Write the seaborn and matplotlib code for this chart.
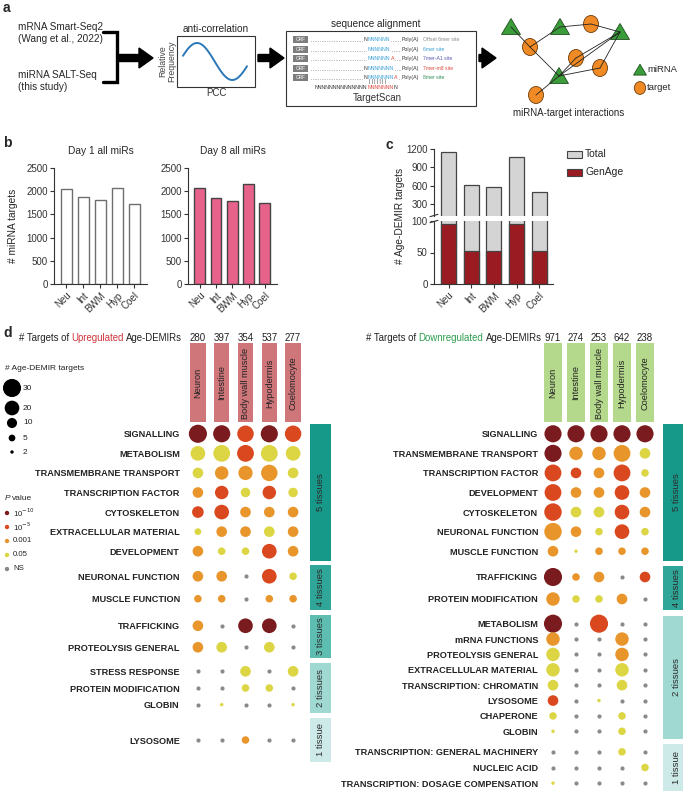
import numpy as np
import pandas as pd
import matplotlib
matplotlib.use("Agg")
import matplotlib.pyplot as plt
import seaborn as sns
from matplotlib.patches import Rectangle, Polygon, Ellipse, FancyArrow

W, H = 683, 792

# ---- data ----
tissues_short = ["Neu", "Int", "BWM", "Hyp", "Coel"]
tissues_long = ["Neuron", "Intestine", "Body wall muscle", "Hypodermis", "Coelomocyte"]

day1_targets = [2055, 1875, 1803, 2076, 1724]
day8_targets = [2069, 1853, 1782, 2155, 1746]

total_targets = [1156, 605, 580, 1064, 497]
genage_targets = [96, 53, 53, 95, 53]

up_totals = [280, 397, 354, 537, 277]
down_totals = [971, 274, 253, 642, 238]

p_levels = ["1e-10", "1e-5", "0.001", "0.05", "NS"]
p_labels = ["10$^{-10}$", "10$^{-5}$", "0.001", "0.05", "NS"]
p_colors = {"1e-10": "#7a1c1f", "1e-5": "#d9481f", "0.001": "#e8962b",
            "0.05": "#dcd544", "NS": "#8a8a8a"}

legend_counts = [30, 20, 10, 5, 2]

up_groups = ["5 tissues"] * 7 + ["4 tissues"] * 2 + ["3 tissues"] * 2 + ["2 tissues"] * 3 + ["1 tissue"]
up_terms = ["SIGNALLING", "METABOLISM", "TRANSMEMBRANE TRANSPORT", "TRANSCRIPTION FACTOR",
            "CYTOSKELETON", "EXTRACELLULAR MATERIAL", "DEVELOPMENT",
            "NEURONAL FUNCTION", "MUSCLE FUNCTION",
            "TRAFFICKING", "PROTEOLYSIS GENERAL",
            "STRESS RESPONSE", "PROTEIN MODIFICATION", "GLOBIN",
            "LYSOSOME"]
up_pval = [["1e-10", "1e-10", "1e-5", "1e-10", "1e-5"],
           ["0.05", "0.05", "1e-5", "0.05", "0.05"],
           ["0.05", "0.001", "0.001", "0.001", "0.05"],
           ["0.001", "1e-5", "0.05", "1e-5", "0.05"],
           ["1e-5", "1e-5", "0.001", "0.001", "0.001"],
           ["0.05", "0.001", "0.001", "0.05", "0.001"],
           ["0.001", "0.05", "0.05", "1e-5", "0.001"],
           ["0.001", "0.001", "NS", "1e-5", "0.05"],
           ["0.001", "0.001", "NS", "0.001", "0.001"],
           ["0.001", "NS", "1e-10", "1e-10", "NS"],
           ["0.001", "0.05", "NS", "0.05", "NS"],
           ["NS", "NS", "0.05", "NS", "0.05"],
           ["NS", "NS", "0.05", "0.05", "NS"],
           ["NS", "0.05", "NS", "NS", "0.05"],
           ["NS", "NS", "0.001", "NS", "NS"]]
up_count = [[30, 27, 25, 27, 25],
            [20, 26, 26, 26, 20],
            [11, 17, 19, 25, 11],
            [11, 17, 9, 17, 9],
            [13, 20, 11, 11, 11],
            [5, 11, 11, 11, 11],
            [11, 6, 6, 20, 11],
            [11, 11, 0, 20, 6],
            [6, 6, 0, 6, 6],
            [11, 0, 20, 20, 0],
            [11, 11, 0, 11, 0],
            [0, 0, 11, 0, 11],
            [0, 0, 6, 6, 0],
            [0, 2, 0, 0, 2],
            [0, 0, 6, 0, 0]]

down_groups = ["5 tissues"] * 7 + ["4 tissues"] * 2 + ["2 tissues"] * 8 + ["1 tissue"] * 3
down_terms = ["SIGNALLING", "TRANSMEMBRANE TRANSPORT", "TRANSCRIPTION FACTOR", "DEVELOPMENT",
              "CYTOSKELETON", "NEURONAL FUNCTION", "MUSCLE FUNCTION",
              "TRAFFICKING", "PROTEIN MODIFICATION",
              "METABOLISM", "mRNA FUNCTIONS", "PROTEOLYSIS GENERAL", "EXTRACELLULAR MATERIAL",
              "TRANSCRIPTION: CHROMATIN", "LYSOSOME", "CHAPERONE", "GLOBIN",
              "TRANSCRIPTION: GENERAL MACHINERY", "NUCLEIC ACID",
              "TRANSCRIPTION: DOSAGE COMPENSATION"]
down_pval = [["1e-10", "1e-10", "1e-10", "1e-10", "1e-10"],
             ["1e-10", "0.001", "0.001", "0.001", "0.05"],
             ["1e-5", "1e-5", "0.001", "1e-5", "0.05"],
             ["1e-5", "0.001", "0.001", "1e-5", "0.001"],
             ["1e-5", "0.05", "0.05", "1e-5", "0.001"],
             ["0.001", "0.001", "0.05", "1e-5", "0.05"],
             ["0.001", "0.05", "0.001", "0.001", "0.001"],
             ["1e-10", "0.001", "0.001", "NS", "1e-5"],
             ["0.001", "0.05", "0.05", "0.001", "NS"],
             ["1e-10", "NS", "1e-5", "NS", "NS"],
             ["0.001", "NS", "NS", "0.001", "NS"],
             ["0.05", "NS", "NS", "0.001", "NS"],
             ["0.05", "NS", "NS", "0.05", "NS"],
             ["0.05", "NS", "NS", "0.05", "NS"],
             ["1e-5", "NS", "0.05", "NS", "NS"],
             ["0.05", "NS", "NS", "0.05", "NS"],
             ["0.05", "NS", "NS", "0.05", "NS"],
             ["NS", "NS", "NS", "0.05", "NS"],
             ["NS", "NS", "NS", "NS", "0.05"],
             ["0.05", "NS", "NS", "NS", "NS"]]
down_count = [[27, 27, 27, 27, 27],
              [27, 17, 17, 26, 11],
              [26, 11, 11, 26, 6],
              [26, 11, 11, 20, 11],
              [28, 11, 11, 20, 11],
              [28, 11, 6, 20, 6],
              [11, 2, 6, 6, 6],
              [30, 6, 11, 0, 11],
              [17, 6, 6, 11, 0],
              [30, 0, 30, 0, 0],
              [17, 0, 0, 17, 0],
              [17, 0, 0, 17, 0],
              [17, 0, 0, 17, 0],
              [11, 0, 0, 11, 0],
              [11, 0, 2, 0, 0],
              [6, 0, 0, 6, 0],
              [2, 0, 0, 6, 0],
              [0, 0, 0, 6, 0],
              [0, 0, 0, 0, 6],
              [2, 0, 0, 0, 0]]

group_colors = {"5 tissues": "#17998a", "4 tissues": "#2fa697", "3 tissues": "#5dbdb1",
                "2 tissues": "#a0d8d2", "1 tissue": "#cdeae8"}

# ---- style ----
sns.set_style("ticks")
plt.rcParams["font.family"] = ["Liberation Sans", "DejaVu Sans"]
plt.rcParams["axes.linewidth"] = 0.8
plt.rcParams["axes.edgecolor"] = "#333333"
plt.rcParams["xtick.color"] = "#333333"
plt.rcParams["ytick.color"] = "#333333"

fig = plt.figure(figsize=(W / 100, H / 100), dpi=100)


def px_axes(x0, y0, x1, y1):
    return fig.add_axes([x0 / W, 1 - y1 / H, (x1 - x0) / W, (y1 - y0) / H])


SIZES = (6, 170)
SIZE_NORM = (2, 30)

# ---- panel b ----
for x0, x1, title, vals, fc, ec in [(54, 147, "Day 1 all miRs", day1_targets, "white", "#6e6e6e"),
                                    (188, 277, "Day 8 all miRs", day8_targets, "#e8638c", "#444444")]:
    ax = px_axes(x0, 168, x1, 284)
    sns.barplot(x=tissues_short, y=vals, color=fc, edgecolor=ec, linewidth=1,
                saturation=1, width=0.66, ax=ax)
    ax.set_ylim(0, 2500)
    ax.set_yticks(range(0, 2501, 500))
    ax.set_xlim(-0.72, 4.75)
    sns.despine(ax=ax)
    ax.set_xticks(range(5))
    ax.set_xticklabels(tissues_short, rotation=45, ha="right", rotation_mode="anchor")
    ax.tick_params(labelsize=7, length=3, width=0.8, pad=1.5)
    ax.set_title(title, fontsize=7.3, pad=10)
fig.text(13 / W, 1 - 226 / H, "# miRNA targets", rotation=90, ha="center", va="center", fontsize=7.3)

# ---- panel c ----
axu = px_axes(434, 149, 553, 216)
sns.barplot(x=tissues_short, y=total_targets, color="#d4d4d4", edgecolor="#444444",
            linewidth=0.9, saturation=1, width=0.66, ax=axu)
axu.set_ylim(100, 1200)
axu.set_yticks([300, 600, 900, 1200])
axu.set_xlim(-0.64, 4.6)
axu.set_xticks([])
sns.despine(ax=axu, bottom=True)
axu.tick_params(labelsize=7, length=3, width=0.8, pad=1.5)
axu.set_xlabel("")

axl = px_axes(434, 221, 553, 284)
sns.barplot(x=tissues_short, y=total_targets, color="#d4d4d4", edgecolor="#444444",
            linewidth=0.9, saturation=1, width=0.66, ax=axl)
sns.barplot(x=tissues_short, y=genage_targets, color="#9b1b22", edgecolor="#444444",
            linewidth=0.9, saturation=1, width=0.66, ax=axl)
axl.set_ylim(0, 100)
axl.set_yticks([0, 50, 100])
axl.set_xlim(-0.64, 4.6)
sns.despine(ax=axl)
axl.set_xticks(range(5))
axl.set_xticklabels(tissues_short, rotation=45, ha="right", rotation_mode="anchor")
axl.tick_params(labelsize=7, length=3, width=0.8, pad=1.5)
fig.text(400 / W, 1 - 216 / H, "# Age-DEMIR targets", rotation=90, ha="center", va="center", fontsize=7.3)


# ---- panel d dot plots ----
def build_frame(terms, groups, pvals, counts, extents):
    rows = []
    for g in dict.fromkeys(groups):
        idx = [i for i, gg in enumerate(groups) if gg == g]
        top, bot = extents[g]
        step = (bot - top) / len(idx)
        for k, i in enumerate(idx):
            y = top + (k + 0.5) * step
            for j in range(5):
                rows.append(dict(term=terms[i], group=g, col=j, y=y,
                                 pval=pvals[i][j], count=counts[i][j]))
    return pd.DataFrame(rows)


up_ext = {"5 tissues": (424, 561), "4 tissues": (565, 610), "3 tissues": (615, 658),
          "2 tissues": (663, 713), "1 tissue": (718, 762)}
down_ext = {"5 tissues": (424, 561), "4 tissues": (566, 610),
            "2 tissues": (616, 739), "1 tissue": (744, 791)}

panels = [
    (build_frame(up_terms, up_groups, up_pval, up_count, up_ext), up_totals, up_ext,
     (186, 305), "#cf767b", 0.64, (310, 331), 4.5),
    (build_frame(down_terms, down_groups, down_pval, down_count, down_ext), down_totals, down_ext,
     (541.5, 656.5), "#b4d98c", 0.74, (663, 690), 2.5),
]

for df, totals, ext, (ax0, ax1), hdr_col, hdr_w, (gx0, gx1), lpad in panels:
    ax = px_axes(ax0, 0, ax1, H)
    ax.patch.set_visible(False)
    sig = df[df.pval != "NS"]
    ns = df[df.pval == "NS"]
    sns.scatterplot(data=sig, x="col", y="y", hue="pval", size="count",
                    palette=p_colors, hue_order=p_levels[:4], sizes=SIZES, size_norm=SIZE_NORM,
                    linewidth=0, legend=False, ax=ax)
    sns.scatterplot(data=ns, x="col", y="y", color=p_colors["NS"], s=9, linewidth=0,
                    legend=False, ax=ax)
    ax.set_xlim(-0.5, 4.5)
    ax.set_ylim(H, 0)
    for sp in ax.spines.values():
        sp.set_visible(False)
    ax.set_xticks([])
    ax.set_xlabel("")
    ax.set_ylabel("")
    labels = df.drop_duplicates("term")
    ax.set_yticks(labels.y)
    ax.set_yticklabels(labels.term, fontweight="bold", fontsize=6.6, color="#222222")
    ax.tick_params(axis="y", length=0, pad=lpad)
    for j in range(5):
        ax.add_patch(Rectangle((j - hdr_w / 2, 343), hdr_w, 79, facecolor=hdr_col,
                               edgecolor="none"))
        ax.text(j, 383, tissues_long[j], rotation=90, ha="center", va="center",
                fontsize=6.6, color="#222222")
        ax.text(j, 338, str(totals[j]), ha="center", va="center", fontsize=7, color="#222222")
    # tissue-sharing bars
    for g, (t, b) in ext.items():
        rect = Rectangle((gx0 / W, 1 - b / H), (gx1 - gx0) / W, (b - t) / H,
                         transform=fig.transFigure, facecolor=group_colors[g],
                         edgecolor="none")
        fig.patches.append(rect)
        fig.text((gx0 + gx1) / 2 / W, 1 - (t + b) / 2 / H, g, rotation=90, ha="center",
                 va="center", fontsize=6.8, color="#2b2b2b")

# ---- overlay for panel a and annotations ----
ov = fig.add_axes([0, 0, 1, 1])
ov.set_xlim(0, W)
ov.set_ylim(H, 0)
ov.axis("off")
ov.patch.set_visible(False)
renderer = fig.canvas.get_renderer()


def colored_text(x, y, parts, gap=0.0, **kw):
    for s, c in parts:
        t = ov.text(x, y, s, color=c, ha="left", va="center", **kw)
        x += t.get_window_extent(renderer).width + gap
    return x


for lab, x, y in [("a", 3, 8), ("b", 3, 143), ("c", 386, 145), ("d", 3, 333)]:
    ov.text(x, y, lab, fontsize=10, fontweight="bold", ha="left", va="center")

# inputs + bracket
fs_a = 7.2
ov.text(18, 27, "mRNA Smart-Seq2", fontsize=fs_a, va="center")
ov.text(18, 39, "(Wang et al., 2022)", fontsize=fs_a, va="center")
ov.text(18, 75, "miRNA SALT-Seq", fontsize=fs_a, va="center")
ov.text(18, 87, "(this study)", fontsize=fs_a, va="center")
ov.plot([103, 117, 117, 103], [32, 32, 82, 82], color="black", lw=2.4, solid_joinstyle="miter")


def big_arrow(x0, x1, y):
    ov.add_patch(FancyArrow(x0, y, x1 - x0, 0, width=7, head_width=20, head_length=14,
                            length_includes_head=True, color="black"))


big_arrow(117, 153, 58)
big_arrow(258, 284, 58)
big_arrow(479, 496, 58)

# anti-correlation box
ov.add_patch(Rectangle((177, 36), 78, 51, facecolor="white", edgecolor="#333333", lw=0.8))
ov.text(216, 29, "anti-correlation", fontsize=7.2, ha="center", va="center")
ov.text(167, 61, "Relative\nFrequency", fontsize=6.3, rotation=90, ha="center", va="center",
        color="#444444", linespacing=1.0)
ov.text(216, 93, "PCC", fontsize=7, ha="center", va="center", color="#333333")
tt = np.linspace(0, 1, 100)
ov.plot(183 + 64 * tt, 61.5 - 18.5 * np.sin(2 * np.pi * (tt - 0.22) / 1.1 + np.pi / 2),
        color="#2a78b8", lw=1.4)

# sequence alignment box
ov.add_patch(Rectangle((286, 31), 190, 75, facecolor="white", edgecolor="#333333", lw=0.8))
ov.text(376, 24, "sequence alignment", fontsize=7.2, ha="center", va="center")
blue, red, k = "#3aa0d8", "#e0453a", "#333333"
rows = [
    (364, [("N", k), ("NNNNNN", blue)], "Offset 6mer site", "#8a8a8a"),
    (368, [("NNNNNN", blue)], "6mer site", blue),
    (368, [("NNNNNN", blue), ("A", red)], "7mer-A1 site", "#5656b0"),
    (364, [("N", k), ("NNNNNNN", blue)], "7mer-m8 site", red),
    (364, [("N", k), ("NNNNNNN", blue), ("A", red)], "8mer site", "#2e8b57"),
]
seq_fs = 3.8
for r, (xs, parts, lab, lc) in enumerate(rows):
    y = 39.5 + r * 9.6
    ov.add_patch(Rectangle((293, y - 3.6), 15, 7.2, facecolor="#7d7d7d", edgecolor="none"))
    ov.text(300.5, y, "ORF", fontsize=3.4, color="white", ha="center", va="center")
    ov.plot([311, xs - 1], [y + 1.5, y + 1.5], color="#555555", lw=0.6, ls=(0, (0.5, 1.6)))
    xe = colored_text(xs, y, parts, fontsize=seq_fs)
    ov.plot([xe + 1, 401], [y + 1.5, y + 1.5], color="#555555", lw=0.6, ls=(0, (0.5, 1.6)))
    ov.text(402, y, "Poly(A)", fontsize=seq_fs, color="#333333", va="center")
    ov.text(423, y, lab, fontsize=3.7, color=lc, va="center")
ov.text(369, 82, "| | | | | | |", fontsize=3.4, color="#333333", va="center")
colored_text(315, 87.5, [("NNNNNNNNNNNNNN", k), ("NNNNNNN", red), ("N", k)], fontsize=seq_fs)
ov.text(377, 98, "TargetScan", fontsize=7, ha="center", va="center", color="#333333")

# network
tri_nodes = {"T1": (511, 27), "T2": (560, 27), "T3": (620, 32), "T4": (559, 76)}
circ_nodes = {"C1": (591, 24), "C2": (530, 47), "C3": (576, 58), "C4": (600, 68), "C5": (536, 95)}
nodes = {**tri_nodes, **circ_nodes}
edges = [("T1", "C2"), ("T2", "C2"), ("T2", "C1"), ("C1", "T3"), ("T3", "C3"), ("T3", "T4"),
         ("C2", "T4"), ("C3", "T4"), ("C4", "T4"), ("C5", "T4"), ("T3", "C4")]
for a, b in edges:
    ov.plot([nodes[a][0], nodes[b][0]], [nodes[a][1], nodes[b][1]], color="#222222", lw=0.6)
green, orange = "#3a9d3a", "#f08a24"


def triangle(cx, cy, s=1.0):
    ov.add_patch(Polygon([(cx - 9.5 * s, cy + 7.5 * s), (cx + 9.5 * s, cy + 7.5 * s), (cx, cy - 8.5 * s)],
                         closed=True, facecolor=green, edgecolor="#1f4f1f", lw=0.6))


def circle(cx, cy, s=1.0):
    ov.add_patch(Ellipse((cx, cy), 15 * s, 17 * s, facecolor=orange, edgecolor="#6b3a0a", lw=0.6))


for cx, cy in tri_nodes.values():
    triangle(cx, cy)
for cx, cy in circ_nodes.values():
    circle(cx, cy)
triangle(640, 70, 0.68)
circle(640, 88, 0.75)
ov.text(647, 70, "miRNA", fontsize=6.8, va="center")
ov.text(647, 88, "target", fontsize=6.8, va="center")
ov.text(569, 113, "miRNA-target interactions", fontsize=7, ha="center", va="center")

# panel c legend
ov.add_patch(Rectangle((567, 150.5), 15, 7, facecolor="#d4d4d4", edgecolor="#444444", lw=0.8))
ov.text(585, 154, "Total", fontsize=7.5, va="center")
ov.add_patch(Rectangle((567, 168.5), 15, 7, facecolor="#9b1b22", edgecolor="#444444", lw=0.8))
ov.text(585, 172, "GenAge", fontsize=7.5, va="center")

# break marks for panel c
for yy in (215.5, 221.5):
    ov.plot([430, 438], [yy + 1.2, yy - 1.2], color="#333333", lw=0.8)

# panel d titles
colored_text(19, 338, [("# Targets of", "#222222"), ("Upregulated", "#d0343a"),
                       ("Age-DEMIRs", "#222222")], gap=2.4, fontsize=6.9)
colored_text(366, 338, [("# Targets of", "#222222"), ("Downregulated", "#2e9e4f"),
                        ("Age-DEMIRs", "#222222")], gap=2.4, fontsize=6.9)

# size legend
ov.text(5, 369, "# Age-DEMIR targets", fontsize=6, va="center", color="#222222")
leg_y = [388, 408, 423, 438, 452]
sns.scatterplot(x=[12] * 5, y=leg_y, size=legend_counts, sizes=SIZES, size_norm=SIZE_NORM,
                color="black", linewidth=0, legend=False, ax=ov)
for c, y in zip(legend_counts, leg_y):
    ov.text(23, y, str(c), fontsize=6, va="center", color="#222222")
ov.set_xlim(0, W)
ov.set_ylim(H, 0)

# p value legend
ov.text(5, 498, "P", fontsize=6, style="italic", va="center")
ov.text(12, 498, "value", fontsize=6, va="center")
pv_y = [513, 527, 541, 555, 569]
sns.scatterplot(x=[7] * 5, y=pv_y, hue=p_levels, palette=p_colors, s=10, linewidth=0,
                legend=False, ax=ov)
for lab, y in zip(p_labels, pv_y):
    ov.text(13, y, lab, fontsize=5.6, va="center", color="#222222")
ov.set_xlim(0, W)
ov.set_ylim(H, 0)
ov.axis("off")

fig.savefig("out.png", dpi=100)
